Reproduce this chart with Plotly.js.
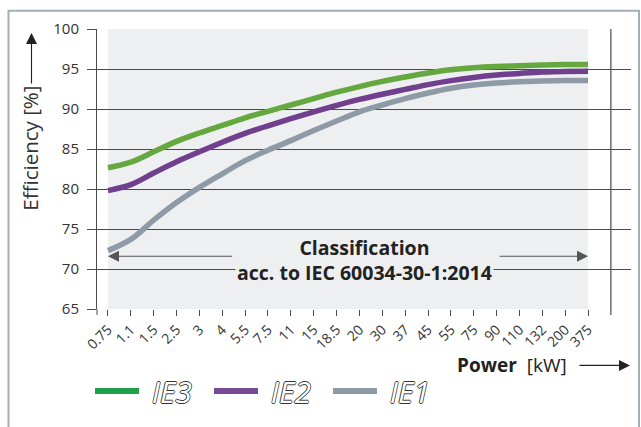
<!DOCTYPE html>
<html>
<head>
<meta charset="utf-8">
<script src="https://cdn.plot.ly/plotly-3.0.1.min.js"></script>
<style>
  html, body { margin: 0; padding: 0; background: #ffffff; }
  #chart { width: 641px; height: 427px; }
</style>
</head>
<body>
<div id="chart"></div>
<script>
// ---- data ----
const powerLabels = ["0.75","1.1","1.5","2.5","3","4","5.5","7.5","11","15","18.5","20","30","37","45","55","75","90","110","132","200","375"];
const ie3 = [82.65,83.35,84.65,85.95,87.0,87.95,88.9,89.7,90.5,91.3,92.1,92.8,93.45,94.0,94.5,94.9,95.15,95.3,95.4,95.5,95.55,95.55];
const ie2 = [79.8,80.55,82.0,83.4,84.65,85.85,86.95,87.9,88.8,89.65,90.45,91.2,91.85,92.45,93.05,93.55,93.95,94.25,94.45,94.62,94.7,94.72];
const ie1 = [72.3,73.7,76.1,78.3,80.2,81.9,83.55,84.85,86.05,87.3,88.5,89.65,90.5,91.3,92.0,92.6,93.0,93.25,93.4,93.5,93.55,93.57];
const seriesNames = ["IE3","IE2","IE1"];
const yTicks = [65,70,75,80,85,90,95,100];

// ---- styles ----
const lineColors = ["#64a83f","#703f8d","#8e9ba6"];
const legendColors = ["#20a04a","#774a95","#8d9ba5"];
const FONT = "Open Sans, Noto Sans, sans-serif";
const seriesData = [ie3, ie2, ie1];

const traces = [];
seriesData.forEach((vals, i) => {
  traces.push({
    type: "scatter", mode: "lines",
    x: powerLabels, y: vals,
    line: {color: lineColors[i], width: 5.5, shape: "spline", smoothing: 1},
    showlegend: false, hoverinfo: "skip"
  });
});
seriesNames.forEach((n, i) => {
  traces.push({
    type: "scatter", mode: "lines", name: "\u00a0" + n,
    x: [null], y: [null],
    line: {color: legendColors[i], width: 6},
    showlegend: true
  });
});

const L = 97, R = 10, T = 29, B = 115, W = 641, H = 427;
const pw = W - L - R, ph = H - T - B;
const px = v => (v - L) / pw;          // pixel -> paper x
const py = v => (H - B - v) / ph;      // pixel -> paper y

const gridColor = "#4a4a4a";

const layout = {
  width: W, height: H, autosize: false,
  margin: {l: L, r: R, t: T, b: B, pad: 0},
  paper_bgcolor: "#ffffff", plot_bgcolor: "#ffffff",
  font: {family: FONT, color: "#333333"},
  xaxis: {
    type: "category",
    categoryorder: "array", categoryarray: powerLabels,
    range: [-0.48, 22.88],
    showgrid: false, zeroline: false, showline: false,
    ticks: "outside", ticklen: 6, tickcolor: gridColor, tickwidth: 1,
    tickangle: -45,
    tickfont: {family: FONT, size: 14, color: "#333333"}
  },
  yaxis: {
    range: [65, 100],
    tickvals: yTicks,
    showgrid: true, gridcolor: gridColor, gridwidth: 1,
    zeroline: false,
    showline: true, linecolor: gridColor, linewidth: 1,
    ticks: "outside", ticklen: 9, tickcolor: gridColor, tickwidth: 1,
    ticklabelstandoff: 5,
    tickfont: {family: FONT, size: 15, color: "#333333"}
  },
  showlegend: true,
  legend: {
    orientation: "h",
    x: px(90), xanchor: "left",
    y: py(395), yanchor: "middle",
    bgcolor: "rgba(0,0,0,0)",
    itemwidth: 44,
    entrywidth: 60,
    font: {family: FONT, size: 30, style: "italic", color: "#ffffff",
           shadow: "0.8px 0 0 #333, -0.8px 0 0 #333, 0 0.8px 0 #333, 0 -0.8px 0 #333"}
  },
  shapes: [
    {type: "rect", layer: "below", xref: "x", yref: "y",
     x0: 0, x1: 21, y0: 65, y1: 100,
     fillcolor: "#eeeff1", line: {width: 0}},
    {type: "line", layer: "above", xref: "x", yref: "paper",
     x0: 22, x1: 22, y0: -6 / ph, y1: 1,
     line: {color: gridColor, width: 1.2}},
    {type: "line", layer: "above", xref: "paper", yref: "paper",
     x0: 0, x1: 0, y0: -6 / ph, y1: 0,
     line: {color: gridColor, width: 1}},
    {type: "rect", layer: "above", xref: "paper", yref: "paper",
     x0: px(8.5), x1: px(639), y0: py(445), y1: py(10.5),
     line: {color: "#a3afb8", width: 2}, fillcolor: "rgba(0,0,0,0)"}
  ],
  annotations: [
    {xref: "x", yref: "y", x: 11.24, y: 71.1, showarrow: false,
     text: "<b>Classification</b><br><b>acc. to IEC 60034-30-1:2014</b>",
     align: "center", font: {family: FONT, size: 19.5, color: "#222222"},
     bgcolor: "#eeeff1", borderpad: 1},
    {xref: "x", yref: "y", axref: "x", ayref: "y",
     x: 0, y: 71.6, ax: 5.5, ay: 71.6, text: "",
     showarrow: true, arrowhead: 2, arrowsize: 2, arrowwidth: 1.1, arrowcolor: "#555555"},
    {xref: "x", yref: "y", axref: "x", ayref: "y",
     x: 21, y: 71.6, ax: 17.06, ay: 71.6, text: "",
     showarrow: true, arrowhead: 2, arrowsize: 2, arrowwidth: 1.1, arrowcolor: "#555555"},
    {xref: "paper", yref: "paper", x: px(30), y: py(150), xanchor: "center", yanchor: "middle",
     textangle: -90, showarrow: false, text: "Efficiency [%]",
     font: {family: FONT, size: 20.5, color: "#333333"}},
    {xref: "paper", yref: "paper", x: px(31.5), y: py(33), ax: 0, ay: 52, text: "",
     showarrow: true, arrowhead: 2, arrowsize: 2, arrowwidth: 1.1, arrowcolor: "#222222"},
    {xref: "paper", yref: "paper", x: px(569), y: py(369), xanchor: "right", yanchor: "middle",
     showarrow: false, text: "<b>Power</b>\u00a0\u00a0[kW]",
     font: {family: FONT, size: 19, color: "#222222"}},
    {xref: "paper", yref: "paper", x: px(630), y: py(369), ax: -52, ay: 0, text: "",
     showarrow: true, arrowhead: 2, arrowsize: 2, arrowwidth: 1.1, arrowcolor: "#222222"}
  ]
};

Plotly.newPlot("chart", traces, layout, {displayModeBar: false, staticPlot: true});
</script>
</body>
</html>
